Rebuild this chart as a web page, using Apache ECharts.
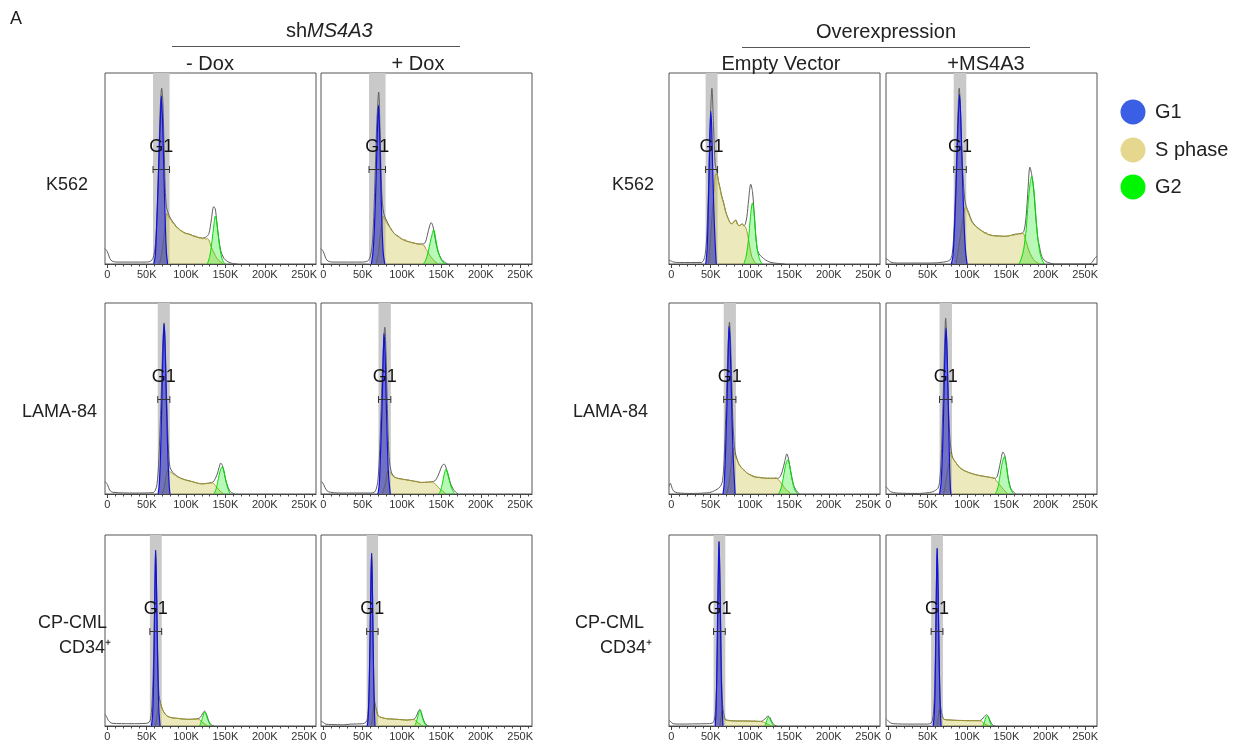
<!DOCTYPE html>
<html><head><meta charset="utf-8">
<script src="https://cdn.jsdelivr.net/npm/echarts@6.0.0/dist/echarts.min.js"></script>
<style>html,body{margin:0;padding:0;background:#fff}#c{width:1236px;height:746px}</style>
</head><body><div id="c"></div>
<script>
// ---------- DATA (x in thousands, y in % of panel height) ----------
const majorTicks = [0, 50, 100, 150, 200, 250];
const minorTicks = [10,20,30,40,60,70,80,90,110,120,130,140,160,170,180,190,210,220,230,240,260];

// gate (grey band and G1 bar) per panel, order: row1 col1..col4, row2, row3
const gateStart = [58, 58, 43.5, 83, 64, 70, 66.5, 65, 54, 55, 53.6, 54.3];
const gateEnd   = [79, 79, 58.7, 99, 79.4, 85.7, 82, 80.8, 69, 69.5, 68.5, 69.3];

// K562 -Dox
const k562NoDoxTotal = [[-3,8],[0,6.5],[3,3],[6,1.5],[12,1],[50,1],[55,1.5],[58,3],[61,10],[63,25],[65,50],[67,80],[69,92],[70.5,85],[72,62],[73.5,40],[75,30],[77,27],[80,24],[85,21],[90,18.5],[95,17],[100,16],[105,15.5],[110,14.5],[115,14],[120,13.5],[125,14],[129,16],[132,23],[135,30],[137,29],[139,22],[141,15],[144,7],[148,3],[152,1.5],[157,0.5],[165,0]];
const k562NoDoxG1 = [[59,0],[61,5],[63.5,30],[65.5,55],[67,72],[68.6,88],[70.3,72],[72,45],[73.5,22],[75,6],[76.5,0]];
const k562NoDoxS = [[66,0],[69,5],[72,15],[74,23],[75.5,26.5],[77,25.5],[79,24],[81,23],[83,21.5],[85,21],[87,19.5],[89,19],[91,18.5],[93,17.5],[95,17.3],[97,16.5],[99,16.2],[101,15.8],[103,16],[105,15.2],[107,15.3],[109,14.6],[111,14.8],[113,14.2],[115,14],[117,13.6],[119,13.9],[121,13.2],[123,13.5],[125,13],[127,13.4],[129,12.5],[131,10],[134,7],[137,4.5],[140,2.5],[144,1],[148,0]];
const k562NoDoxG2 = [[127,0],[130,4],[132,9],[134,16],[135.5,21],[137,25],[138.5,23],[140,18],[142,11],[143.5,7],[145.5,3],[147.5,1],[150,0]];

// K562 +Dox
const k562DoxTotal = [[-3,8],[0,6.5],[3,3],[6,1.5],[12,1],[50,1],[56,1.5],[59,3],[62,10],[64,25],[66,50],[68,75],[70.3,90],[72,70],[73.5,45],[75,32],[77,26],[80,23],[85,19],[90,16],[95,14.5],[100,13],[105,12],[110,11.5],[115,11],[120,10.5],[125,10.5],[129,11],[132,15],[135,20],[137,21.7],[139,20],[141,16],[143,11],[146,6],[150,2.5],[154,1],[158,0]];
const k562DoxG1 = [[61,0],[63,6],[65,20],[67,45],[68.8,72],[70,83],[71.2,72],[73,42],[74.5,20],[76,6],[78,0]];
const k562DoxS = [[67,0],[70,6],[72.5,16],[74.5,22.5],[76,25],[78,23.5],[80,22],[82,20.5],[84,19.5],[86,18],[88,17],[90,16],[92,15.2],[94,14.5],[96,14.2],[98,13.5],[100,13],[102,12.6],[104,12.8],[106,12],[108,11.8],[110,11.5],[112,11.2],[114,11],[116,10.9],[118,10.6],[120,10.5],[122,10.2],[124,10.4],[126,10],[128,9.8],[130,8],[133,6],[136,4],[139,2.5],[142,1.2],[146,0]];
const k562DoxG2 = [[127,0],[130,2],[133,6],[136,12],[138.5,16],[140,18],[142,15],[144,10],[147,5],[150,2],[153,0.5],[156,0]];

// K562 Empty Vector
const k562EvTotal = [[-3,2],[0,1.5],[3,1],[10,0.8],[38,0.8],[41,2],[43,5],[45,15],[47,37],[49.3,72],[51.5,92],[53.6,72],[55.7,52],[58,48],[60,43],[62,39.5],[64,35.5],[66.5,32],[69,27.5],[71,25],[74,22],[77,21],[80,22.5],[82,23],[84,21],[86,20],[88,20.5],[90,21],[92,20],[94,21],[96,25],[98,33],[100.8,41.8],[103,38],[105,28],[107,16],[109,8],[111,5.5],[114,4],[117,3],[120,2],[125,1],[131,0.5],[144,0]];
const k562EvG1 = [[43.7,0],[45.5,8],[47,30],[48.5,60],[50,80],[51.2,72],[52.5,50],[54,28],[55.5,12],[57,0]];
const k562EvS = [[47,0],[50,15],[52.5,30],[54.5,40],[56,47],[58,47],[60,43],[62,39],[64,35],[66.5,31.5],[68.5,28],[70.8,25],[73,23],[75,21.5],[77,21],[79,22],[81.5,23],[83.5,21],[85.8,20],[88,20.5],[90,21],[92,20],[94,19.6],[96,17],[98,13],[100,8],[102,4],[105,1.5],[108,0]];
const k562EvG2 = [[92,0],[95,4],[98,13],[100.5,25],[103,32],[105,27],[107,16],[109,8],[111,4],[113,1.5],[115,0]];

// K562 +MS4A3
const k562MsTotal = [[-3,3],[0,2],[3,1],[10,0.5],[55,0.5],[70,1],[78,2],[81,5],[83,15],[85,35],[87,60],[88.5,80],[90,92],[91.5,82],[93,62],[95,45],[97,34],[99,30],[102,27],[106,22.5],[112,19.5],[120,17],[130,15],[140,14.7],[150,14.5],[160,15.5],[168,16],[172,17],[175,25],[177.5,40],[179.7,50.7],[182,47],[185,37],[187.5,23],[190,13],[192,9],[194,5],[196,3],[200,1.3],[205,0.5],[211,0],[255,0],[259,1],[262,3],[265,4]];
const k562MsG1 = [[80,0],[82,4],[84,18],[86,40],[88,68],[90.5,88.6],[92,76],[93.5,55],[95,35],[96.5,18],[98,7],[100,0]];
const k562MsS = [[86,0],[89,8],[92,16],[95,25],[97,29],[98.5,30],[100,28],[102,26],[104,24],[106,22],[108,21],[110,20],[112,19.5],[114,18.5],[116,18],[118,17.5],[120,17],[122,16.2],[124,16.5],[126,15.8],[128,15.2],[130,15.5],[132,14.8],[134,15],[136,14.5],[138,14.7],[140,14.4],[142,14.8],[144,14.2],[146,14.6],[148,14.3],[150,14.8],[152,14.5],[154,15],[156,14.8],[158,15.3],[160,15],[162,15.6],[164,15.4],[166,16],[168,15.6],[170,16.2],[172,15.8],[174,13],[177,9],[180,5.5],[184,2.5],[188,1],[192,0]];
const k562MsG2 = [[166,0],[169,3],[172,8],[175,18],[177.5,32],[180,42],[182,45.8],[184,42],[186,33],[188,22],[190,13],[192,7],[194,3.5],[196,1.5],[198,0]];

// LAMA-84 -Dox
const lamaNoDoxTotal = [[-3,6.5],[0,5],[3,2],[7,0.9],[35,0.5],[58,0.7],[61,2],[63,5],[65,15],[67,35],[69,60],[70.5,80],[72,89.6],[73.5,78],[75,55],[76.5,35],[78,20],[79.5,14],[82,12],[85,10.5],[90,9],[95,8],[100,7.3],[105,6.8],[110,6.2],[115,5.6],[120,5.3],[125,5.5],[130,5.8],[134,6.2],[137,8],[140,11],[142,14],[144,16.2],[146,15],[148,12],[150,8],[152,5],[155,2],[158,0.7],[162,0]];
const lamaNoDoxG1 = [[64.5,0],[66,5],[67.5,20],[69,45],[70.5,72],[72,89],[73,82],[74,65],[75.5,40],[77,18],[78.5,5],[79.5,0]];
const lamaNoDoxS = [[70,0],[72.5,4],[74.5,9],[76.5,12.5],[78,12],[80,11.5],[82,11],[84,10.2],[86,10],[88,9.3],[90,8.7],[92,8.5],[94,8],[96,7.8],[98,7.5],[100,7.2],[102,7],[104,6.8],[106,6.6],[108,6.5],[110,6.2],[112,6],[114,5.8],[116,5.5],[118,5.6],[120,5.2],[122,5.5],[124,5.3],[126,5.6],[128,5.4],[130,5.8],[132,5.6],[134,6],[136,5],[138,4],[141,2.5],[144,1.2],[148,0]];
const lamaNoDoxG2 = [[135.6,0],[138,2.5],[140,6],[142,10],[144,13],[146,14.3],[147.5,13],[149,10],[151,6],[153,3],[155.8,0]];

// LAMA-84 +Dox
const lamaDoxTotal = [[-3,6.4],[-1,6],[2,3.5],[5,1.5],[9,0.9],[20,0.5],[60,0.5],[65,1],[67,2.5],[69,6],[71,18],[73,40],[75,65],[77,83],[78,87.3],[79.5,75],[81,50],[82.5,28],[84,17],[86,12],[88,10],[91,8.7],[95,8.2],[100,7.8],[106,7.4],[112,7],[118,6.5],[125,6],[132,6.2],[138,6.4],[142,7],[145,9],[148,12],[151,15],[153.7,15.6],[156,13.5],[159,9],[162,5],[165,2.5],[168,1],[171,0]];
const lamaDoxG1 = [[69.3,0],[71,5],[72.5,20],[74.5,45],[76,70],[77,84],[78.3,75],[79.5,55],[81,30],[82.5,12],[84,4],[85,0]];
const lamaDoxS = [[75,0],[77,3],[79,6],[80.5,9.5],[82,12.5],[84,11.5],[86,10.5],[88,9.6],[90,8.7],[92,8.6],[94,8.2],[96,8],[98,7.9],[100,7.8],[102,7.5],[104,7.6],[106,7.2],[108,7.3],[110,7],[112,7],[114,6.8],[116,6.5],[118,6.7],[120,6.3],[122,6.2],[124,6],[126,6.2],[128,6],[130,6.3],[132,6.1],[134,6.4],[136,6.2],[138,6.4],[141,5.5],[144,4.5],[147,3],[150,2],[153,1],[156,0]];
const lamaDoxG2 = [[147,0],[149,2],[151,5],[153,9.5],[155.8,13],[158,11],[160,7.5],[162,4],[164,2],[166.7,0]];

// LAMA-84 Empty Vector
const lamaEvTotal = [[-3,4],[-1.3,5.6],[1,3],[3,1.5],[8,0.6],[25,0.3],[45,0.6],[52,1.2],[58,2.5],[62,3.8],[65,7],[67,18],[69,40],[71,65],[72.5,82],[73.8,90],[75,82],[76.5,62],[78,40],[79.5,28],[81,22],[83.6,18],[86,15.5],[89,13.8],[92,12.6],[96,11],[100,10],[105,9],[110,8.7],[115,8.5],[122,8.2],[128,8.2],[135,8.2],[138,9],[141,12],[144,17],[146.7,21],[149,18],[151,13],[153,9],[155,5],[157,3],[160,1],[163,0]];
const lamaEvG1 = [[65.6,0],[67,5],[68.5,18],[70.5,45],[72,70],[73.3,87.8],[74.5,80],[75.7,62],[77,40],[78.5,20],[80,7],[81,0]];
const lamaEvS = [[70,0],[73,5],[75,12],[77,19],[78.5,24],[80,21],[81.5,19.5],[83.6,17.8],[86,15.5],[88,14.5],[90,13.4],[92,12.6],[94,11.8],[96,11],[98,10.5],[100,10.2],[102,9.8],[104,9.6],[106,9],[108,8.9],[110,8.7],[112,8.8],[114,8.4],[116,8.5],[118,8.2],[120,8.4],[122,8.2],[124,8.5],[126,8.1],[128,8.4],[130,8.2],[132,8.5],[134,8.2],[136,7.5],[138,6.5],[141,5],[144,3],[148,1.5],[152,0]];
const lamaEvG2 = [[136,0],[138,1.5],[140,4],[142,8],[144,13],[146,16.5],[148,18],[150,15.5],[151.5,12],[153,8],[155,4.5],[157,2],[158.5,1],[160.8,0]];

// LAMA-84 +MS4A3
const lamaMsTotal = [[-3.4,3.8],[-1,3],[1,1.8],[3,1.2],[10,0.5],[40,0.3],[52,0.8],[56.5,1.2],[60,2],[63,3],[65,6],[67,18],[69,42],[71,72],[72.8,92],[74,82],[75.5,60],[77,38],[78.8,26],[81,20],[83,18],[86.5,16],[90,14],[95,12.5],[99.3,11.7],[105,10.8],[112,10],[118,9.5],[125,9],[130,8.6],[135.7,8.2],[138,9],[140,12],[143,18],[145.5,22],[148,20],[150,15],[152,9],[154,5],[156,2.5],[159,1],[162,0]];
const lamaMsG1 = [[65,0],[67,6],[69,25],[71,58],[72.2,78],[73.2,86.9],[74.3,78],[75.5,58],[76.7,35],[77.8,15],[78.8,3],[79.5,0]];
const lamaMsS = [[70,0],[72.5,5],[75,12],[77,17],[78.8,22],[80.5,19.5],[83,18],[85,16.8],[86.5,16],[88,15],[90,14.2],[92,13.5],[94,13],[96,12.4],[98,12],[100,11.6],[102,11.3],[104,11],[106,10.8],[108,10.4],[110,10.2],[112,10],[114,9.8],[116,9.6],[118,9.5],[120,9.2],[122,9.3],[124,9],[126,9.1],[128,8.8],[130,8.7],[132,8.6],[135,8.2],[137,7],[140,5.5],[143,4],[146,2.5],[149,1.2],[152,0]];
const lamaMsG2 = [[135.7,0],[138,2],[140,5],[142,10],[144,15],[147.3,19.6],[149.5,16],[151.5,10],[153.5,5],[156,2],[159,0]];

// CP-CML CD34+ -Dox
const cmlNoDoxTotal = [[-3,6],[-1,5],[1,3],[3.5,2],[6,1.4],[30,1.2],[50,1.4],[53,2],[55,4],[56.5,10],[58,25],[59.5,50],[60.5,78],[61.3,92],[62.3,78],[63.5,50],[64.5,28],[65.6,16],[67,13],[70,8.7],[73,6.5],[76,5.2],[82,4.3],[89,4],[95,3.7],[102,3.5],[110,3.6],[115,3.8],[118,4.5],[121,6.5],[123.5,7.8],[126,6],[128,3.5],[130,1.5],[133,0.3],[136,0]];
const cmlNoDoxG1 = [[56,0],[57.5,6],[58.8,25],[59.8,55],[60.6,78],[61.3,92],[62.2,78],[63.2,50],[64.3,25],[65.5,8],[67,0]];
const cmlNoDoxS = [[61,0],[63,5],[64.5,10],[65.8,13.5],[67,12.5],[68.5,10],[70,8.7],[72,7],[74,6],[76,5.2],[79,4.6],[82,4.3],[85,4.1],[89,4],[92,3.8],[95,3.7],[98,3.6],[102,3.5],[106,3.5],[110,3.6],[113,3.7],[116,3.6],[118,3],[120,2.2],[123,1.2],[126,0.5],[128,0]];
const cmlNoDoxG2 = [[117,0],[119,2],[121,4.5],[122.5,6.5],[124,7.3],[125.5,6],[127,4],[129,2],[130.5,0.8],[132,0]];

// CP-CML CD34+ +Dox
const cmlDoxTotal = [[-3,2.6],[0,1.8],[3.4,0.9],[10,0.8],[25,0.6],[35,1],[50,1.2],[54,2],[56,4],[57.5,12],[58.8,35],[60,65],[61.3,90.4],[62.3,76],[63.3,45],[64,25],[64.7,14],[66,11],[68,7.5],[70,5.2],[75,4.3],[80.6,3.8],[87,3.6],[93.5,3.5],[100,3.3],[106,3.1],[111,3.3],[115,3.5],[118,5],[120.5,7.5],[122.6,8.7],[124.5,7],[126.5,4],[128.5,2],[131,0.6],[134,0]];
const cmlDoxG1 = [[55.7,0],[57,5],[58.3,22],[59.5,52],[60.5,78],[61.3,90.4],[62.1,76],[63,48],[64,22],[65,6],[65.6,0]];
const cmlDoxS = [[61,0],[62.5,5],[63.8,10],[64.7,12.2],[66,10],[68,7],[70,5.2],[73,4.6],[76,4.2],[80.6,3.8],[85,3.7],[90,3.6],[93.5,3.5],[98,3.3],[102,3.2],[106,3.1],[110,3.3],[113,3.4],[115,3.5],[117,2.8],[120,1.8],[123,0.8],[126,0]];
const cmlDoxG2 = [[116,0],[118,2],[120,5],[122.6,8.3],[124.5,6.5],[126.5,3.5],[128.5,1.5],[130,0.5],[132,0]];

// CP-CML CD34+ Empty Vector
const cmlEvTotal = [[-3,3],[0,2],[2,1.2],[10,1],[30,1.1],[45,1.2],[52,1.5],[54.5,3],[56,8],[57.5,22],[58.8,55],[59.8,82],[60.5,96.5],[61.3,88],[62.2,68],[63.3,38],[64.3,18],[65.5,9],[67,5.5],[68.6,3.5],[72,3],[79,2.7],[87,2.6],[96.5,2.6],[105,2.5],[113.6,2.4],[117,3],[120,4.3],[123,5.2],[125,4.5],[127,2.8],[129,1.3],[131,0.5],[134,0]];
const cmlEvG1 = [[55.7,0],[56.8,8],[57.8,30],[58.8,60],[59.8,85],[60.5,96.5],[61.2,85],[62,65],[62.8,42],[63.6,22],[64.6,8],[65.6,0]];
const cmlEvS = [[61.5,0],[63,4],[64.3,8],[65.3,6],[66.5,4],[68.6,3],[72,2.8],[76,2.7],[80,2.6],[85,2.6],[90,2.7],[96.5,2.6],[102,2.5],[106,2.6],[110,2.4],[113.6,2.4],[117,2],[120,1.4],[123,0.8],[126,0.3],[128,0]];
const cmlEvG2 = [[118.8,0],[120.5,2],[122,3.8],[123,4.7],[124.5,4],[126.5,2.5],[128.5,1],[130.8,0]];

// CP-CML CD34+ +MS4A3
const cmlMsTotal = [[-3,3.8],[-1,3],[2,1.8],[6,1.2],[30,1],[50,1],[54,1.5],[56,3],[57.5,8],[59,22],[60.5,60],[62,93],[63.2,72],[64.2,45],[65.2,22],[66.2,11],[67.5,7],[69,5],[70.7,3.5],[76,3.2],[83.6,3],[92,2.9],[101,2.8],[110,2.8],[116,2.8],[119,3.5],[122,5],[124.6,5.9],[127,4.8],[129,3],[131,1.3],[133,0.4],[136,0]];
const cmlMsG1 = [[57,0],[58.3,6],[59.4,20],[60.5,55],[61.3,80],[62,93],[62.8,80],[63.6,60],[64.5,35],[65.5,15],[66.4,4],[67,0]];
const cmlMsS = [[62,0],[63.5,5],[64.7,8.7],[66,6],[68,4.5],[70.7,3.5],[74,3.2],[78,3.1],[83.6,3],[88,2.9],[94,2.9],[101,2.8],[106,2.8],[111,2.8],[116,2.8],[118.5,2.5],[121,1.5],[124,0.7],[127,0.2],[129,0]];
const cmlMsG2 = [[120,0],[121.5,1.5],[123,3.5],[124.5,5],[126,5.5],[127.5,4.2],[129,2.2],[130.5,0.8],[132,0]];

const totals = [k562NoDoxTotal,k562DoxTotal,k562EvTotal,k562MsTotal,lamaNoDoxTotal,lamaDoxTotal,lamaEvTotal,lamaMsTotal,cmlNoDoxTotal,cmlDoxTotal,cmlEvTotal,cmlMsTotal];
const g1s = [k562NoDoxG1,k562DoxG1,k562EvG1,k562MsG1,lamaNoDoxG1,lamaDoxG1,lamaEvG1,lamaMsG1,cmlNoDoxG1,cmlDoxG1,cmlEvG1,cmlMsG1];
const ss = [k562NoDoxS,k562DoxS,k562EvS,k562MsS,lamaNoDoxS,lamaDoxS,lamaEvS,lamaMsS,cmlNoDoxS,cmlDoxS,cmlEvS,cmlMsS];
const g2s = [k562NoDoxG2,k562DoxG2,k562EvG2,k562MsG2,lamaNoDoxG2,lamaDoxG2,lamaEvG2,lamaMsG2,cmlNoDoxG2,cmlDoxG2,cmlEvG2,cmlMsG2];

const colHeaders = ['- Dox', '+ Dox', 'Empty Vector', '+MS4A3'];
const rowLabels = ['K562', 'LAMA-84', 'CP-CML', 'CD34\u207A'];
const legendNames = ['G1', 'S phase', 'G2'];

// ---------- LAYOUT ----------
const FONT = '"Liberation Sans", Arial, Helvetica, sans-serif';
const colLeft = [105, 321, 669, 886];
const rowTop = [73, 303, 535];
const W = 211, H = 191;

const grids = [], xAxes = [], yAxes = [], series = [];
for (let i = 0; i < 12; i++) {
  const r = Math.floor(i / 4), c = i % 4;
  grids.push({left: colLeft[c], top: rowTop[r], width: W, height: H, show: true, borderColor: '#555', borderWidth: 1, backgroundColor: 'transparent'});
  xAxes.push({gridIndex: i, type: 'value', position: 'bottom', min: -3, max: 265,
    axisLine: {show: true, lineStyle: {color: '#444', width: 1}},
    axisTick: {show: true, customValues: majorTicks, length: 4, lineStyle: {color: '#444'}},
    axisLabel: {show: true, customValues: majorTicks, fontSize: 11, color: '#333', margin: 5, fontFamily: FONT,
      formatter: v => v === 0 ? '0' : v + 'K'},
    splitLine: {show: false}});
  xAxes.push({gridIndex: i, type: 'value', position: 'bottom', min: -3, max: 265,
    axisLine: {show: false},
    axisTick: {show: true, customValues: minorTicks, length: 2.5, lineStyle: {color: '#444'}},
    axisLabel: {show: false}, splitLine: {show: false}});
  yAxes.push({gridIndex: i, type: 'value', min: 0, max: 100, show: false});

  const xi = 2 * i, yi = i;
  // grey gate band
  series.push({type: 'custom', xAxisIndex: xi, yAxisIndex: yi, z: 1, silent: true,
    data: [[gateStart[i], gateEnd[i]]],
    renderItem: (params, api) => {
      const p0 = api.coord([api.value(0), 100]);
      const p1 = api.coord([api.value(1), 0]);
      return {type: 'rect', shape: {x: p0[0], y: p0[1], width: p1[0] - p0[0], height: p1[1] - p0[1]},
        style: {fill: '#c9c9c9'}};
    }});
  // total histogram outline
  series.push({type: 'line', name: 'Total', xAxisIndex: xi, yAxisIndex: yi, z: 2, data: totals[i],
    showSymbol: false, smooth: 0.3, silent: true,
    lineStyle: {color: '#5e5e5e', width: 1}});
  // S phase
  series.push({type: 'line', name: 'S phase', xAxisIndex: xi, yAxisIndex: yi, z: 3, data: ss[i],
    showSymbol: false, smooth: 0.15, silent: true,
    lineStyle: {color: '#a39b28', width: 1},
    areaStyle: {color: 'rgba(204,194,70,0.52)', origin: 'start'}});
  // G2
  series.push({type: 'line', name: 'G2', xAxisIndex: xi, yAxisIndex: yi, z: 4, data: g2s[i],
    showSymbol: false, smooth: 0.3, silent: true,
    lineStyle: {color: '#00dd00', width: 1},
    areaStyle: {color: 'rgba(0,235,0,0.4)', origin: 'start'}});
  // G1
  series.push({type: 'line', name: 'G1', xAxisIndex: xi, yAxisIndex: yi, z: 5, data: g1s[i],
    showSymbol: false, smooth: 0.3, silent: true,
    lineStyle: {color: '#1010e0', width: 1.2},
    areaStyle: {color: 'rgba(25,30,185,0.72)', origin: 'start'}});
  // G1 gate bar + label
  series.push({type: 'custom', xAxisIndex: xi, yAxisIndex: yi, z: 6, silent: true,
    data: [[gateStart[i], gateEnd[i]]],
    renderItem: (params, api) => {
      const a = api.value(0), b = api.value(1);
      const pa = api.coord([a, 50]), pb = api.coord([b, 50]);
      const pt = api.coord([(a + b) / 2, 61]);
      const y = Math.round(pa[1]) + 0.5;
      const st = {stroke: '#333', lineWidth: 1};
      return {type: 'group', children: [
        {type: 'line', shape: {x1: pa[0], y1: y, x2: pb[0], y2: y}, style: st},
        {type: 'line', shape: {x1: pa[0], y1: y - 3.5, x2: pa[0], y2: y + 3.5}, style: st},
        {type: 'line', shape: {x1: pb[0], y1: y - 3.5, x2: pb[0], y2: y + 3.5}, style: st},
        {type: 'text', x: pt[0], y: pt[1], style: {text: 'G1', fill: '#111', fontSize: 18, fontFamily: FONT,
          align: 'center', verticalAlign: 'middle', textAlign: 'center', textVerticalAlign: 'middle'}}
      ]};
    }});
}

// ---------- TEXT / DECORATIONS ----------
function txt(x, y, text, size, align, extra) {
  return Object.assign({type: 'text', x: x, y: y, silent: true,
    style: {text: text, fontSize: size, fontFamily: FONT, fill: '#222',
      align: align, textAlign: align, verticalAlign: 'middle', textVerticalAlign: 'middle'}}, extra || {});
}
const graphics = [
  txt(10, 19, 'A', 18, 'left'),
  {type: 'text', x: 286, y: 31, silent: true, style: {text: '{n|sh}{i|MS4A3}', fontFamily: FONT, verticalAlign: 'middle', textVerticalAlign: 'middle',
    rich: {n: {fontSize: 20, fontFamily: FONT, fill: '#222', color: '#222'}, i: {fontSize: 20, fontFamily: FONT, fontStyle: 'italic', fill: '#222', color: '#222'}}}},
  {type: 'line', silent: true, shape: {x1: 172, y1: 46.5, x2: 460, y2: 46.5}, style: {stroke: '#555', lineWidth: 1}},
  txt(886, 32, 'Overexpression', 20, 'center'),
  {type: 'line', silent: true, shape: {x1: 742, y1: 47.5, x2: 1030, y2: 47.5}, style: {stroke: '#555', lineWidth: 1}},
  txt(210, 64, colHeaders[0], 20, 'center'),
  txt(418, 64, colHeaders[1], 20, 'center'),
  txt(781, 64, colHeaders[2], 20, 'center'),
  txt(986, 64, colHeaders[3], 20, 'center'),
  // row labels
  txt(46, 185, rowLabels[0], 18, 'left'),
  txt(22, 412, rowLabels[1], 18, 'left'),
  txt(38, 623, rowLabels[2], 18, 'left'),
  txt(59, 648, rowLabels[3], 18, 'left'),
  txt(612, 185, rowLabels[0], 18, 'left'),
  txt(573, 412, rowLabels[1], 18, 'left'),
  txt(575, 623, rowLabels[2], 18, 'left'),
  txt(600, 648, rowLabels[3], 18, 'left')
];
const legendColors = ['#3a5ee4', '#e5d88e', '#00f500'];
const legendY = [112, 150, 187];
for (let k = 0; k < 3; k++) {
  graphics.push({type: 'circle', silent: true, shape: {cx: 1133, cy: legendY[k], r: 12.5}, style: {fill: legendColors[k]}});
  graphics.push(txt(1155, legendY[k], legendNames[k], 20, 'left'));
}

const chart = echarts.init(document.getElementById('c'), null, {renderer: 'canvas'});
chart.setOption({
  animation: false,
  backgroundColor: '#fff',
  grid: grids, xAxis: xAxes, yAxis: yAxes, series: series,
  graphic: {elements: graphics}
});
</script></body></html>
